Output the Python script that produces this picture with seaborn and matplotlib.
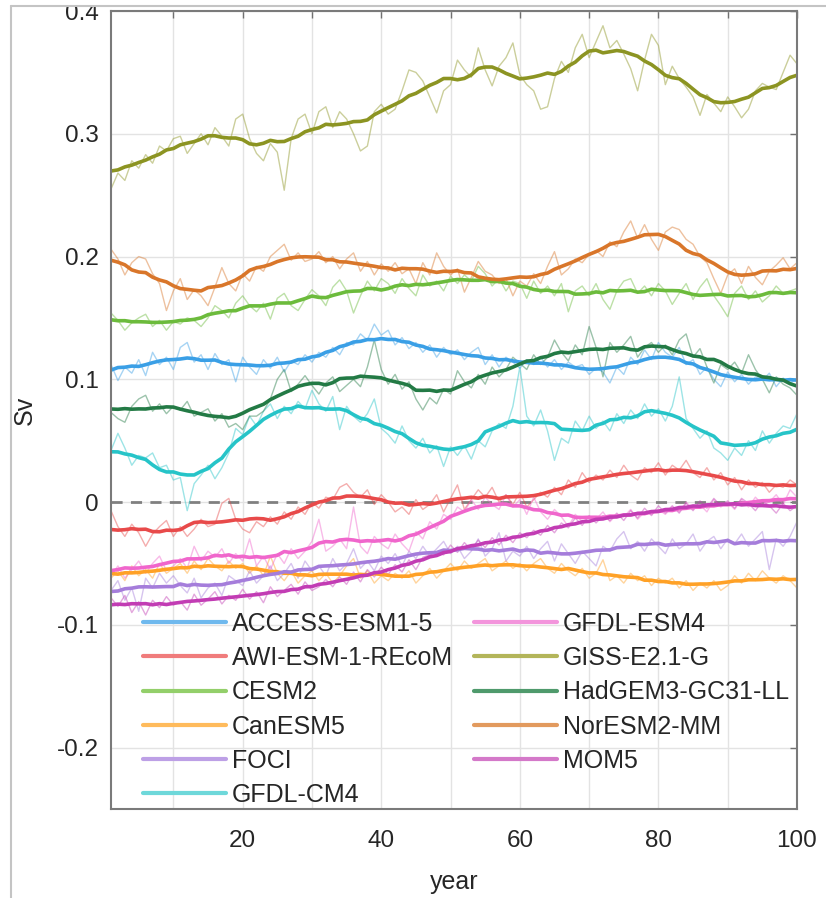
import numpy as np
import pandas as pd
import seaborn as sns
import matplotlib.pyplot as plt
from matplotlib.lines import Line2D
from matplotlib.patches import Rectangle

# Valores anuales (mSv)
years = list(range(1, 101))

models = ["ACCESS-ESM1-5", "AWI-ESM-1-REcoM", "CESM2", "CanESM5", "FOCI", "GFDL-CM4",
          "GFDL-ESM4", "GISS-E2.1-G", "HadGEM3-GC31-LL", "NorESM2-MM", "MOM5"]

access = [112, 99, 110, 105, 116, 103, 122, 112, 118, 108,
          126, 130, 114, 120, 108, 121, 112, 116, 98, 118,
          110, 104, 116, 109, 118, 106, 115, 112, 120, 114,
          122, 118, 126, 120, 130, 128, 137, 132, 145, 136,
          140, 128, 134, 125, 130, 122, 128, 118, 126, 120,
          124, 116, 122, 126, 112, 120, 110, 118, 114, 109,
          116, 112, 118, 110, 116, 108, 114, 110, 112, 104,
          109, 106, 97, 110, 104, 118, 112, 124, 116, 130,
          122, 118, 126, 112, 116, 104, 110, 100, 94, 106,
          98, 104, 96, 102, 99, 105, 94, 101, 97, 100]

awi = [-7, -20, -28, -18, -25, -36, -26, -20, -15, -28,
       -20, -28, -22, -14, -20, -18, -1, 3, -14, -22,
       -25, -16, -20, -12, -18, -8, -14, -4, -10, 0,
       -5, 4, 2, 12, 15, 8, 4, 10, -2, 6,
       0, -8, -4, -10, 2, -6, -2, 6, -8, 3,
       14, -6, 2, 10, 4, 12, 0, 6, -2, 8,
       -4, 2, 8, 4, 12, 6, 18, 12, 24, 16,
       22, 18, 26, 20, 30, 22, 18, 28, 24, 32,
       22, 30, 26, 34, 24, 20, 28, 18, 24, 14,
       20, 10, 18, 12, 16, 8, 14, 12, 18, 14]

cesm2 = [154, 148, 140, 146, 150, 153, 143, 148, 140, 147,
         145, 150, 148, 143, 150, 160, 156, 150, 162, 168,
         160, 155, 162, 149, 166, 170, 160, 156, 165, 173,
         168, 160, 175, 181, 172, 154, 168, 180, 172, 182,
         178, 170, 182, 174, 168, 185, 176, 180, 172, 184,
         178, 185, 180, 192, 186, 176, 182, 172, 180, 178,
         166, 180, 170, 176, 168, 178, 155, 172, 176, 168,
         178, 165, 157, 172, 180, 182, 170, 176, 168, 178,
         172, 161, 170, 178, 165, 175, 182, 168, 160, 151,
         170, 176, 165, 172, 163, 168, 176, 170, 172, 174]

canesm5 = [-62, -56, -64, -52, -60, -55, -62, -50, -58, -54,
           -50, -58, -48, -55, -46, -52, -56, -48, -54, -50,
           -58, -52, -60, -44, -58, -64, -56, -66, -60, -56,
           -64, -58, -66, -60, -52, -46, -62, -56, -66, -60,
           -64, -58, -62, -56, -66, -60, -54, -62, -56, -50,
           -56, -48, -54, -50, -46, -56, -52, -48, -54, -50,
           -56, -50, -46, -54, -58, -50, -56, -60, -54, -62,
           -58, -47, -64, -60, -66, -58, -64, -60, -68, -62,
           -66, -62, -70, -64, -72, -66, -70, -64, -72, -68,
           -60, -66, -58, -64, -56, -62, -66, -60, -64, -70]

foci = [-72, -64, -80, -70, -89, -62, -70, -58, -66, -60,
        -68, -74, -62, -78, -70, -66, -76, -60, -64, -68,
        -56, -66, -60, -52, -64, -58, -50, -62, -48, -56,
        -52, -60, -46, -56, -50, -38, -54, -48, -56, -44,
        -50, -42, -52, -40, -46, -36, -44, -38, -32, -42,
        -36, -46, -40, -30, -44, -38, -25, -48, -40, -44,
        -36, -46, -38, -32, -48, -34, -42, -50, -40, -46,
        -52, -36, -40, -30, -24, -38, -32, -40, -30, -36,
        -42, -30, -38, -34, -26, -40, -32, -28, -38, -30,
        -34, -26, -36, -30, -24, -55, -30, -36, -28, -16]

gfdl_cm4 = [42, 56, 44, 30, 38, 36, 40, 28, 30, 18,
            20, -7, 15, 22, 30, 19, 28, 40, 60, 55,
            70, 62, 74, 80, 68, 78, 72, 82, 76, 91,
            80, 74, 86, 59, 78, 70, 65, 72, 84, 60,
            55, 48, 62, 50, 44, 52, 40, 46, 29, 45,
            38, 46, 35, 50, 45, 58, 64, 60, 78, 110,
            70, 62, 75, 58, 34, 52, 48, 66, 58, 70,
            60, 66, 58, 72, 64, 75, 68, 80, 70, 76,
            66, 78, 102, 68, 60, 52, 58, 44, 40, 34,
            44, 38, 50, 42, 58, 48, 56, 62, 60, 72]

gfdl_esm4 = [-60, -52, -62, -55, -48, -58, -50, -44, -56, -52,
             -46, -54, -36, -48, -40, -45, -38, -50, -42, -48,
             -30, -52, -44, -55, -42, -50, -38, -46, -40, -32,
             -14, -40, -36, -30, -38, -4, -36, -42, -28, -34,
             -38, -26, -34, -40, -24, -30, -16, -22, -10, -14,
             -4, -8, 2, -6, 4, -2, -6, 6, -4, 2,
             -10, 4, -8, -14, -6, -12, -20, -10, -16, -12,
             -14, -8, -16, -10, -12, -6, -14, -8, -10, -6,
             -10, -4, -8, 0, -6, -2, -8, 2, -4, 0,
             -6, 2, -4, 4, -2, 0, 6, -2, 10, 4]

giss = [255, 268, 262, 278, 272, 283, 276, 290, 286, 296,
        298, 284, 292, 300, 291, 305, 298, 290, 312, 316,
        296, 284, 278, 292, 285, 254, 296, 312, 316, 300,
        318, 322, 305, 318, 312, 300, 286, 290, 318, 324,
        316, 320, 335, 352, 350, 343, 330, 317, 335, 340,
        360, 352, 346, 370, 352, 339, 355, 362, 374, 348,
        340, 335, 320, 322, 345, 359, 350, 370, 381, 362,
        375, 388, 370, 376, 365, 353, 335, 360, 381, 372,
        340, 355, 345, 338, 330, 315, 332, 325, 318, 330,
        322, 313, 320, 335, 341, 338, 336, 350, 364, 357]

hadgem3 = [73, 68, 65, 78, 84, 87, 74, 80, 72, 78,
           75, 82, 70, 73, 76, 66, 72, 61, 64, 59,
           70, 70, 74, 84, 100, 108, 90, 96, 103, 95,
           88, 97, 102, 90, 95, 100, 94, 110, 132, 108,
           96, 104, 92, 98, 84, 75, 85, 80, 92, 88,
           107, 98, 93, 104, 96, 110, 102, 108, 118, 113,
           108, 120, 112, 118, 132, 122, 115, 128, 120, 143,
           126, 102, 130, 122, 128, 135, 118, 126, 130, 122,
           128, 120, 132, 137, 118, 125, 110, 97, 112, 108,
           114, 105, 120, 108, 100, 89, 102, 96, 93, 87]

noresm2 = [206, 198, 185, 195, 200, 198, 186, 178, 156, 172,
           182, 165, 173, 168, 160, 175, 191, 178, 172, 186,
           180, 192, 188, 200, 205, 210, 197, 203, 196, 198,
           204, 195, 200, 190, 198, 203, 188, 196, 185, 194,
           188, 195, 186, 190, 178, 195, 185, 203, 192, 185,
           190, 171, 183, 196, 188, 185, 178, 182, 168, 180,
           176, 186, 178, 192, 204, 185, 190, 198, 195, 202,
           205, 200, 212, 208, 220, 229, 215, 226, 214, 205,
           220, 224, 222, 214, 210, 200, 195, 182, 170, 185,
           190, 178, 192, 183, 177, 188, 193, 199, 190, 195]

mom5 = [-78, -85, -76, -90, -81, -92, -80, -86, -77, -84,
        -81, -88, -75, -84, -79, -73, -83, -76, -80, -71,
        -79, -73, -82, -69, -77, -72, -67, -75, -65, -72,
        -69, -63, -69, -61, -67, -57, -65, -55, -61, -53,
        -59, -51, -57, -47, -55, -45, -43, -41, -43, -35,
        -41, -33, -39, -31, -37, -29, -35, -27, -33, -25,
        -29, -23, -27, -19, -25, -17, -21, -13, -19, -11,
        -17, -11, -15, -9, -15, -7, -13, -5, -11, -3,
        -9, -3, -9, -1, -7, 1, -5, 3, -3, 1,
        -5, 3, -1, -7, 1, -3, -9, -1, -7, -3]

series = [access, awi, cesm2, canesm5, foci, gfdl_cm4,
          gfdl_esm4, giss, hadgem3, noresm2, mom5]

colors = ["#3a9fe6", "#e84a4a", "#6cbb3c", "#ffa126", "#a57ddb", "#26c4c8",
          "#f066cc", "#8c9422", "#237a45", "#d9762a", "#c23cb4"]
legend_colors = ["#6fb9ee", "#f07c7c", "#93cf6a", "#ffbb5c", "#bda0e6", "#6ed8da",
                 "#f395dc", "#b3b55a", "#4f9a6c", "#e29a5e", "#d479c9"]

# Tabla larga + media móvil de ~10 años
frames = []
for name, vals in zip(models, series):
    d = pd.DataFrame({"year": years, "raw": np.array(vals) / 1000.0, "model": name})
    d["smooth"] = d["raw"].rolling(11, center=True, min_periods=1).mean()
    frames.append(d)
df = pd.concat(frames, ignore_index=True)

sns.set_theme(style="white")
plt.rcParams["font.family"] = ["Liberation Sans", "DejaVu Sans"]

fig = plt.figure(figsize=(8.26, 8.98), dpi=100)
ax = fig.add_axes([111 / 826, 89 / 898, 686 / 826, 798 / 898])

pal = dict(zip(models, colors))
sns.lineplot(data=df, x="year", y="raw", hue="model", palette=pal, linewidth=1.0,
             alpha=0.45, legend=False, estimator=None, ax=ax)
sns.lineplot(data=df, x="year", y="smooth", hue="model", palette=pal, linewidth=2.6,
             legend=False, estimator=None, ax=ax)
ax.axhline(0, color="#808080", lw=2, ls=(0, (4, 3)), zorder=1)

ax.set_xlim(1, 100)
ax.set_ylim(-0.25, 0.4)
ax.set_xticks(range(10, 101, 10))
ax.set_xticklabels(["" if t % 20 else str(t) for t in range(10, 101, 10)])
yt = [-0.2, -0.1, 0, 0.1, 0.2, 0.3, 0.4]
ax.set_yticks(yt)
ax.set_yticklabels(["-0.2", "-0.1", "0", "0.1", "0.2", "0.3", "0.4"])
ax.grid(True, color="#e3e3e3", lw=1)
ax.set_axisbelow(True)
ax.tick_params(direction="in", length=5, width=1, color="#707070", labelsize=17.5,
               labelcolor="#262626", top=True, right=True)
ax.tick_params(axis="x", pad=15)
ax.tick_params(axis="y", pad=9)
for s in ax.spines.values():
    s.set_color("#7a7a7a")
    s.set_linewidth(1.5)
ax.set_xlabel("year", fontsize=18, color="#262626", labelpad=13)
ax.set_ylabel("Sv", fontsize=18, color="#262626", labelpad=14)

handles = [Line2D([], [], color=c, lw=3) for c in legend_colors]
ax.legend(handles, models, ncol=2, loc="upper left", bbox_to_anchor=(0.047, 0.247),
          frameon=False, fontsize=18, handlelength=3.3, handletextpad=0.25,
          columnspacing=0.85, labelspacing=0.41, borderaxespad=0, borderpad=0)

# marco exterior de la captura
fig.patches.append(Rectangle((0, 1 - 6 / 898), 1, 6 / 898, transform=fig.transFigure,
                             facecolor="white", edgecolor="none", zorder=5))
fig.lines.append(Line2D([11 / 826, 11 / 826], [0, 1 - 6 / 898], transform=fig.transFigure,
                        color="#c4c4c4", lw=1.5, zorder=6))
fig.lines.append(Line2D([11 / 826, 1], [1 - 6 / 898, 1 - 6 / 898], transform=fig.transFigure,
                        color="#c4c4c4", lw=1.5, zorder=6))

fig.savefig("out.png", dpi=100)
